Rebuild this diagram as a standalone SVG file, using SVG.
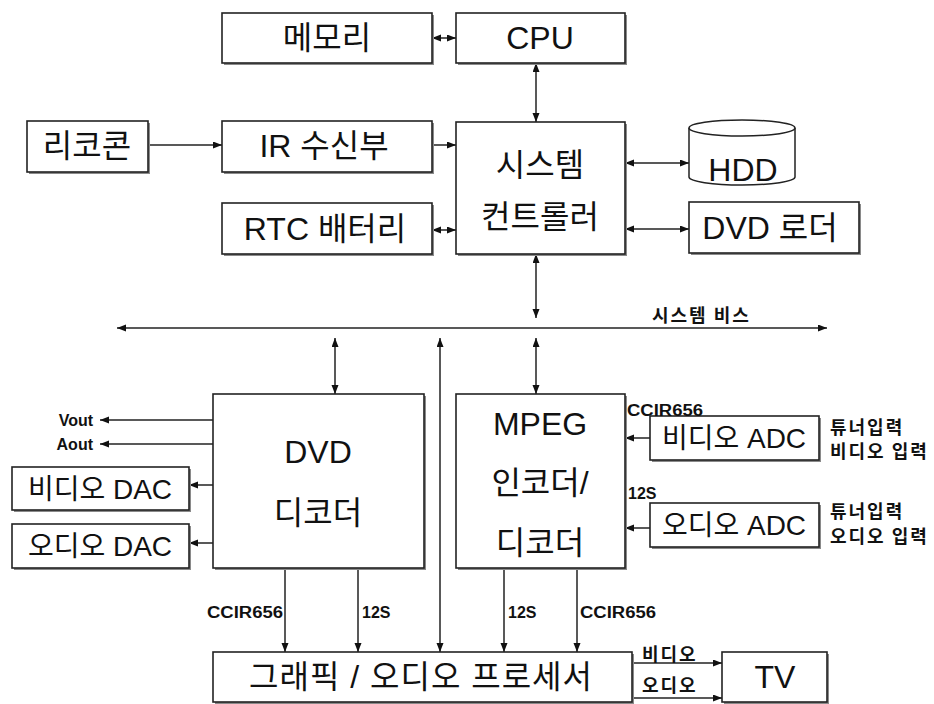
<svg xmlns="http://www.w3.org/2000/svg" width="934" height="704" viewBox="0 0 934 704">
<style>
.sh{fill:#8a8a8a;stroke:none}
.bx{fill:#fff;stroke:#222;stroke-width:1.6}
.t{font-family:"Liberation Sans","Noto Sans CJK KR",sans-serif;font-size:32px;fill:#111;text-anchor:middle;dominant-baseline:central}
.m{font-size:28px}
.s{font-family:"Liberation Sans","Noto Sans CJK KR",sans-serif;font-size:16px;fill:#111;dominant-baseline:central;font-weight:bold}
.k{font-family:"Noto Sans CJK KR","Liberation Sans",sans-serif;font-size:18px;fill:#111;dominant-baseline:central;font-weight:bold;letter-spacing:2px}
.c line,.c path{stroke:#222;stroke-width:1.5;fill:none}
</style>
<defs>
<marker id="ah" markerUnits="userSpaceOnUse" markerWidth="10" markerHeight="8" refX="9" refY="3.5" orient="auto-start-reverse"><path d="M0,0 L9,3.5 L0,7 z" fill="#111"/></marker>
</defs>
<rect width="934" height="704" fill="#fff"/>
<g class="c" id="connectors">
<line x1="432" y1="38" x2="456" y2="38" marker-start="url(#ah)" marker-end="url(#ah)"/>
<line x1="536" y1="63" x2="536" y2="122" marker-start="url(#ah)" marker-end="url(#ah)"/>
<line x1="148" y1="145" x2="222" y2="145" marker-end="url(#ah)"/>
<line x1="432" y1="145" x2="456" y2="145" marker-end="url(#ah)"/>
<line x1="432" y1="230" x2="456" y2="230" marker-start="url(#ah)" marker-end="url(#ah)"/>
<line x1="625" y1="163" x2="689" y2="163" marker-start="url(#ah)" marker-end="url(#ah)"/>
<line x1="625" y1="229" x2="689" y2="229" marker-start="url(#ah)" marker-end="url(#ah)"/>
<line x1="536" y1="254" x2="536" y2="318" marker-start="url(#ah)" marker-end="url(#ah)"/>
<line x1="117" y1="328" x2="827" y2="328" marker-start="url(#ah)" marker-end="url(#ah)"/>
<line x1="335" y1="338" x2="335" y2="394" marker-start="url(#ah)" marker-end="url(#ah)"/>
<line x1="536" y1="338" x2="536" y2="394" marker-start="url(#ah)" marker-end="url(#ah)"/>
<line x1="440" y1="338" x2="440" y2="652" marker-start="url(#ah)" marker-end="url(#ah)"/>
<line x1="213" y1="420" x2="100" y2="420" marker-end="url(#ah)"/>
<line x1="213" y1="444" x2="100" y2="444" marker-end="url(#ah)"/>
<line x1="213" y1="485" x2="189" y2="485" marker-end="url(#ah)"/>
<line x1="213" y1="543" x2="189" y2="543" marker-end="url(#ah)"/>
<line x1="650" y1="438" x2="625" y2="438" marker-end="url(#ah)"/>
<line x1="650" y1="528" x2="625" y2="528" marker-end="url(#ah)"/>
<line x1="285" y1="568" x2="285" y2="652" marker-end="url(#ah)"/>
<line x1="358" y1="568" x2="358" y2="652" marker-end="url(#ah)"/>
<line x1="504" y1="568" x2="504" y2="652" marker-end="url(#ah)"/>
<line x1="577" y1="568" x2="577" y2="652" marker-end="url(#ah)"/>
<line x1="632" y1="663" x2="722" y2="663" marker-end="url(#ah)"/>
<line x1="632" y1="698" x2="722" y2="698" marker-end="url(#ah)"/>
</g>
<g id="memory"><rect class="sh" x="224" y="15" width="210" height="50"/><rect class="bx" x="222" y="13" width="210" height="50"/><text class="t" x="327" y="38">메모리</text></g>
<g id="cpu"><rect class="sh" x="458" y="15" width="169" height="50"/><rect class="bx" x="456" y="13" width="169" height="50"/><text class="t" x="540" y="38">CPU</text></g>
<g id="remote"><rect class="sh" x="29" y="123" width="121" height="51"/><rect class="bx" x="27" y="121" width="121" height="51"/><text class="t" x="87" y="146">리코콘</text></g>
<g id="ir"><rect class="sh" x="224" y="123" width="210" height="51"/><rect class="bx" x="222" y="121" width="210" height="51"/><text class="t" x="324" y="146">IR 수신부</text></g>
<g id="rtc"><rect class="sh" x="224" y="205" width="210" height="51"/><rect class="bx" x="222" y="203" width="210" height="51"/><text class="t" x="325" y="229">RTC 배터리</text></g>
<g id="controller"><rect class="sh" x="458" y="124" width="169" height="132"/><rect class="bx" x="456" y="122" width="169" height="132"/><text class="t" x="540" y="165">시스템</text><text class="t" x="540" y="217">컨트롤러</text></g>
<g id="hdd"><path d="M689,128 L689,177 A53,8 0 0 0 795,177 L795,128" fill="#fff" stroke="#222" stroke-width="1.5"/><ellipse cx="742" cy="128" rx="53" ry="8" fill="#fff" stroke="#222" stroke-width="1.5"/><text class="t" x="743" y="170">HDD</text></g>
<g id="dvdloader"><rect class="sh" x="691" y="204" width="170" height="51"/><rect class="bx" x="689" y="202" width="170" height="51"/><text class="t" x="770" y="228">DVD 로더</text></g>
<g id="buslabel"><text class="k" x="652" y="314" font-size="19">시스템 비스</text></g>
<g id="dvddecoder"><rect class="sh" x="215" y="396" width="211" height="174"/><rect class="bx" x="213" y="394" width="211" height="174"/><text class="t" x="318" y="452">DVD</text><text class="t" x="318" y="513">디코더</text></g>
<g id="mpeg"><rect class="sh" x="458" y="396" width="169" height="174"/><rect class="bx" x="456" y="394" width="169" height="174"/><text class="t" x="540" y="424">MPEG</text><text class="t" x="540" y="483">인코더/</text><text class="t" x="540" y="543">디코더</text></g>
<g id="outs"><text class="s" x="93" y="420" text-anchor="end">Vout</text><text class="s" x="93" y="444" text-anchor="end">Aout</text></g>
<g id="vdac"><rect class="sh" x="14" y="469" width="177" height="43"/><rect class="bx" x="12" y="467" width="177" height="43"/><text class="t m" x="100" y="489">비디오 DAC</text></g>
<g id="adac"><rect class="sh" x="14" y="526" width="177" height="44"/><rect class="bx" x="12" y="524" width="177" height="44"/><text class="t m" x="100" y="546">오디오 DAC</text></g>
<g id="vadc"><rect class="sh" x="652" y="418" width="169" height="44"/><rect class="bx" x="650" y="416" width="169" height="44"/><text class="t m" x="734" y="438">비디오 ADC</text></g>
<g id="aadc"><rect class="sh" x="652" y="505" width="169" height="44"/><rect class="bx" x="650" y="503" width="169" height="44"/><text class="t m" x="734" y="525">오디오 ADC</text></g>
<g id="sidelabels">
<text class="s" x="627" y="410" textLength="76" lengthAdjust="spacingAndGlyphs">CCIR656</text>
<text class="s" x="628" y="493">12S</text>
<text class="k" x="830" y="426">튜너입력</text>
<text class="k" x="830" y="450">비디오 입력</text>
<text class="k" x="830" y="510">튜너입력</text>
<text class="k" x="830" y="535">오디오 입력</text>
<text class="s" x="207" y="612" textLength="76" lengthAdjust="spacingAndGlyphs">CCIR656</text>
<text class="s" x="362" y="612">12S</text>
<text class="s" x="508" y="612">12S</text>
<text class="s" x="580" y="612" textLength="76" lengthAdjust="spacingAndGlyphs">CCIR656</text>
<text class="k" x="642" y="653">비디오</text>
<text class="k" x="642" y="684">오디오</text>
</g>
<g id="gfx"><rect class="sh" x="215" y="654" width="419" height="50"/><rect class="bx" x="213" y="652" width="419" height="50"/><text class="t" x="421" y="677" letter-spacing="1">그래픽 / 오디오 프로세서</text></g>
<g id="tv"><rect class="sh" x="724" y="654" width="105" height="50"/><rect class="bx" x="722" y="652" width="105" height="50"/><text class="t" x="775" y="677">TV</text></g>
</svg>
